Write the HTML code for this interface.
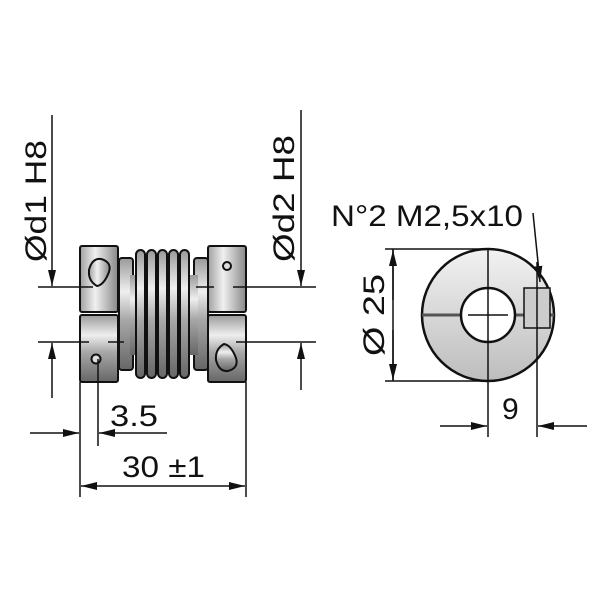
<!DOCTYPE html>
<html><head><meta charset="utf-8"><style>body{margin:0;background:#fff}svg{display:block}</style></head><body>
<svg width="600" height="600" viewBox="0 0 600 600" xmlns="http://www.w3.org/2000/svg" font-family="Liberation Sans, sans-serif">
<defs>
<linearGradient id="g" x1="0" y1="0" x2="0" y2="1">
<stop offset="0" stop-color="#9a9a9a"/><stop offset="0.3" stop-color="#efefef"/><stop offset="0.55" stop-color="#a8a8a8"/><stop offset="1" stop-color="#666"/></linearGradient>
<linearGradient id="h" x1="0" y1="0" x2="1" y2="0">
<stop offset="0" stop-color="#a0a0a0"/><stop offset="0.4" stop-color="#f0f0f0"/><stop offset="1" stop-color="#888"/></linearGradient>
<linearGradient id="c" x1="0" y1="0" x2="0" y2="1">
<stop offset="0" stop-color="#f2f2f2"/><stop offset="1" stop-color="#bdbdbd"/></linearGradient>
<marker id="a2" markerWidth="16" markerHeight="8" refX="16" refY="4" orient="auto" markerUnits="userSpaceOnUse"><path d="M0,0 L16,4 L0,8z" fill="#111"/></marker>
</defs>
<g stroke="#111" stroke-width="2">
<rect x="119" y="258" width="14" height="112" rx="3" fill="url(#g)"/>
<rect x="194" y="258" width="14" height="112" rx="3" fill="url(#g)"/>
<rect x="130" y="275" width="68" height="80" fill="url(#g)" stroke="none"/>
<g fill="url(#g)">
<rect x="136" y="250" width="9" height="128" rx="4.5"/>
<rect x="147" y="250" width="9" height="128" rx="4.5"/>
<rect x="158" y="250" width="9" height="128" rx="4.5"/>
<rect x="169" y="250" width="9" height="128" rx="4.5"/>
<rect x="180" y="250" width="9" height="128" rx="4.5"/>
</g>
<rect x="80" y="246" width="38" height="66" rx="2" fill="url(#h)"/>
<rect x="80" y="315" width="38" height="67" rx="2" fill="url(#g)"/>
<rect x="208" y="246" width="38" height="66" rx="2" fill="url(#h)"/>
<rect x="208" y="315" width="38" height="67" rx="2" fill="url(#g)"/>
<path d="M89,270 Q92,258 101,259 Q112,262 109,272 Q104,285 97,286 Q88,281 89,270z" fill="url(#h)"/>
<path d="M216,360 Q219,372 228,371 Q239,368 236,358 Q231,345 224,344 Q215,349 216,360z" fill="url(#g)"/>
<circle cx="96" cy="359" r="4.5" fill="#ddd"/>
<circle cx="227" cy="266" r="4" fill="#ddd"/>
</g>
<g stroke="#111" stroke-width="1.5" fill="none">
<line x1="52" y1="115" x2="52" y2="286" marker-end="url(#a2)"/>
<line x1="52" y1="398" x2="52" y2="343" marker-end="url(#a2)"/>
<line x1="301" y1="110" x2="301" y2="286" marker-end="url(#a2)"/>
<line x1="301" y1="390" x2="301" y2="343" marker-end="url(#a2)"/>
<line x1="38" y1="287" x2="93" y2="287"/>
<line x1="38" y1="342" x2="89" y2="342"/>
<line x1="233" y1="287" x2="316" y2="287"/>
<line x1="236" y1="342" x2="316" y2="342"/>
<line x1="196" y1="287" x2="214" y2="287"/>
<line x1="108" y1="342" x2="124" y2="342"/>
<line x1="80" y1="382" x2="80" y2="497"/>
<line x1="246" y1="382" x2="246" y2="497"/>
<line x1="98" y1="359" x2="98" y2="446"/>
<line x1="30" y1="433" x2="79" y2="433" marker-end="url(#a2)"/>
<line x1="167" y1="433" x2="99" y2="433" marker-end="url(#a2)"/>
<line x1="163" y1="486" x2="81" y2="486" marker-end="url(#a2)"/>
<line x1="163" y1="486" x2="245" y2="486" marker-end="url(#a2)"/>
</g>
<g stroke="#111">
<circle cx="488" cy="315" r="66" fill="url(#c)" stroke-width="2.5"/>
<line x1="422" y1="315" x2="554" y2="315" stroke-width="3" stroke="#555"/>
<circle cx="488" cy="315" r="27" fill="#fff" stroke-width="2.5"/>
<rect x="524" y="288" width="26" height="40" fill="#ccc" stroke-width="1.5"/>
</g>
<g stroke="#111" stroke-width="1.5" fill="none">
<line x1="488" y1="249" x2="488" y2="437"/>
<line x1="537" y1="262" x2="537" y2="437"/>
<line x1="468" y1="315" x2="508" y2="315"/>
<line x1="393" y1="249" x2="393" y2="381"/>
<line x1="385" y1="249" x2="488" y2="249"/>
<line x1="385" y1="381" x2="488" y2="381"/>
<line x1="393" y1="300" x2="393" y2="250" marker-end="url(#a2)"/>
<line x1="393" y1="330" x2="393" y2="380" marker-end="url(#a2)"/>
<line x1="440" y1="426" x2="487" y2="426" marker-end="url(#a2)"/>
<line x1="587" y1="426" x2="538" y2="426" marker-end="url(#a2)"/>
<line x1="533" y1="213" x2="540" y2="282" marker-end="url(#a2)"/>
</g>
<g font-size="30" fill="#111">
<text transform="translate(46,262) rotate(-90)" textLength="122" lengthAdjust="spacingAndGlyphs">Ød1 H8</text>
<text transform="translate(294,262) rotate(-90)" textLength="127" lengthAdjust="spacingAndGlyphs">Ød2 H8</text>
<text transform="translate(384,356) rotate(-90)" textLength="82" lengthAdjust="spacingAndGlyphs">Ø 25</text>
<text x="331" y="226" textLength="192" lengthAdjust="spacingAndGlyphs">N°2 M2,5x10</text>
<text x="110" y="426" textLength="48" lengthAdjust="spacingAndGlyphs">3.5</text>
<text x="122" y="477" textLength="83" lengthAdjust="spacingAndGlyphs">30 ±1</text>
<text x="502" y="419">9</text>
</g>
</svg>
</body></html>
